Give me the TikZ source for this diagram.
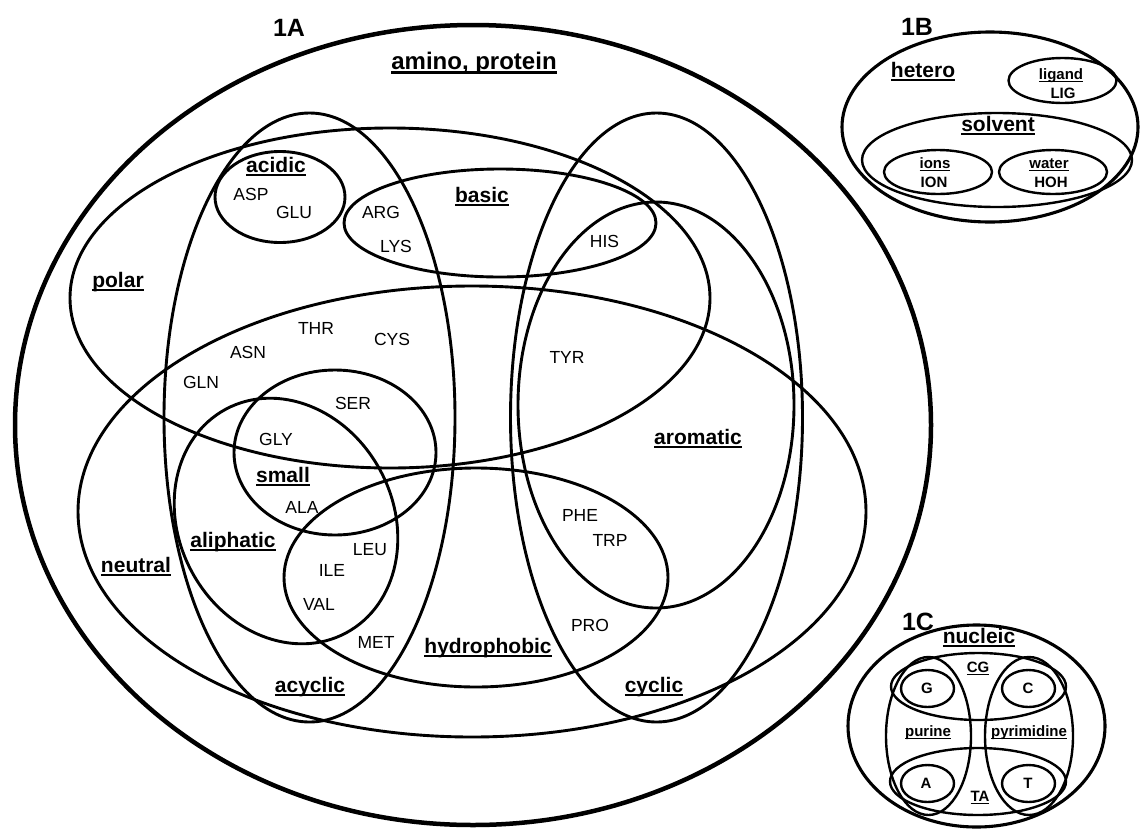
\documentclass[tikz,border=0pt]{standalone}
\usepackage{fontspec}
\setmainfont{Liberation Sans}
\newcommand\ulx[1]{\setbox0\hbox{#1}\rlap{\rule[-0.17em]{\wd0}{0.09em}}\box0}
\tikzset{
  ell/.style={line width=2.9pt},
  outerA/.style={line width=4.5pt},
  outerB/.style={line width=3.1pt},
  small ell/.style={line width=2.4pt},
  lab/.style={inner sep=0pt, font=\bfseries\fontsize{21}{21}\selectfont, text height=15pt, text depth=0pt},
  slab/.style={inner sep=0pt, font=\bfseries\fontsize{15}{15}\selectfont, text height=11pt, text depth=0pt},
  res/.style={inner sep=0pt, font=\fontsize{17.5}{17.5}\selectfont, text height=12.5pt, text depth=0pt},
  panel/.style={inner sep=0pt, font=\bfseries\fontsize{25}{25}\selectfont, text height=18pt, text depth=0pt},
}
\begin{document}
\begin{tikzpicture}[x=1pt,y=-1pt]
\useasboundingbox (0,0) rectangle (1140,828);
% ---------- 1A ----------
\draw[outerA] (473,425) ellipse [x radius=458, y radius=400];
\draw[ell] (390,298) ellipse [x radius=320, y radius=170];   % polar
\draw[ell] (472,511.5) ellipse [x radius=394, y radius=225.5]; % neutral
\draw[ell] (309.5,417.5) ellipse [x radius=145.5, y radius=304.5]; % acyclic
\draw[ell] (656.5,417.5) ellipse [x radius=146, y radius=304.5]; % cyclic
\draw[ell] (656,405) ellipse [x radius=138, y radius=203]; % aromatic
\draw[ell] (280,197) ellipse [x radius=65, y radius=45.5]; % acidic
\draw[ell] (500,223) ellipse [x radius=156, y radius=54]; % basic
\draw[ell] (335,452.5) ellipse [x radius=101, y radius=82.5]; % small
\draw[ell, rotate around={-61.7:(286,521)}] (286,521) ellipse [x radius=127, y radius=107]; % aliphatic
\draw[ell] (476,577.5) ellipse [x radius=192, y radius=109.5]; % hydrophobic

\node[panel] (l1A) at (289,27) {1A};
\node[inner sep=0pt, font=\bfseries\fontsize{24}{24}\selectfont, text height=17pt, text depth=0pt] (amino) at (474,61) {\ulx{amino, protein}};
\node[lab] (acidic) at (276,165) {\ulx{acidic}};
\node[lab] (basic) at (482,195) {\ulx{basic}};
\node[lab] (polar) at (118,280) {\ulx{polar}};
\node[lab] (aliphatic) at (233,540) {\ulx{aliphatic}};
\node[lab] (small) at (283,475) {\ulx{small}};
\node[lab] (neutral) at (136,565) {\ulx{neutral}};
\node[lab] (hydrophobic) at (488,646) {\ulx{hydrophobic}};
\node[lab] (acyclic) at (310,685) {\ulx{acyclic}};
\node[lab] (cyclic) at (654,685) {\ulx{cyclic}};
\node[lab] (aromatic) at (698,437) {\ulx{aromatic}};

\node[res] (ASP) at (251,194) {ASP};
\node[res] (GLU) at (294,212) {GLU};
\node[res] (ARG) at (381,212) {ARG};
\node[res] (LYS) at (396,246) {LYS};
\node[res] (THR) at (316,328) {THR};
\node[res] (CYS) at (392,339) {CYS};
\node[res] (ASN) at (248,352) {ASN};
\node[res] (GLN) at (201,382) {GLN};
\node[res] (SER) at (353,403) {SER};
\node[res] (TYR) at (567,357) {TYR};
\node[res] (HIS) at (604.5,241) {HIS};
\node[res] (GLY) at (276,439) {GLY};
\node[res] (ALA) at (302,507) {ALA};
\node[res] (LEU) at (370,549) {LEU};
\node[res] (ILE) at (332,570) {ILE};
\node[res] (VAL) at (319,604) {VAL};
\node[res] (MET) at (376,642) {MET};
\node[res] (PHE) at (580,515) {PHE};
\node[res] (TRP) at (610,540) {TRP};
\node[res] (PRO) at (590,625) {PRO};

% ---------- 1B ----------
\draw[outerB] (990,127) ellipse [x radius=148, y radius=95];
\draw[small ell] (1062.5,80.5) ellipse [x radius=54, y radius=22.5]; % ligand
\draw[small ell] (997,160) ellipse [x radius=135, y radius=47]; % solvent
\draw[small ell] (938,172) ellipse [x radius=54, y radius=22]; % ions
\draw[small ell] (1053,172) ellipse [x radius=54, y radius=22]; % water
\node[panel] (l1B) at (917,26) {1B};
\node[lab] (hetero) at (923,70) {\ulx{hetero}};
\node[lab] (solvent) at (998,124) {\ulx{solvent}};
\node[slab] (ligand) at (1061,74) {\ulx{ligand}};
\node[slab] (LIG) at (1063,93) {LIG};
\node[slab] (ions) at (935,163) {\ulx{ions}};
\node[slab] (ION) at (934,182) {ION};
\node[slab] (water) at (1049,163) {\ulx{water}};
\node[slab] (HOH) at (1051,182) {HOH};

% ---------- 1C ----------
\draw[outerB] (976.5,726) ellipse [x radius=128.5, y radius=101];
\draw[small ell] (978.5,686.5) ellipse [x radius=87.5, y radius=33.5]; % CG
\draw[small ell] (978,781.5) ellipse [x radius=88, y radius=33.5]; % TA
\draw[small ell] (928.5,736) ellipse [x radius=42.5, y radius=79]; % purine
\draw[small ell] (1029,736) ellipse [x radius=44, y radius=79]; % pyrimidine
\draw[small ell] (927.5,688.5) ellipse [x radius=26.5, y radius=18.5]; % G
\draw[small ell] (1028.5,688.5) ellipse [x radius=26.5, y radius=18.5]; % C
\draw[small ell] (927.5,783.5) ellipse [x radius=26.5, y radius=18.5]; % A
\draw[small ell] (1028.5,783.5) ellipse [x radius=26.5, y radius=18.5]; % T
\node[panel] (l1C) at (918,621) {1C};
\node[lab] (nucleic) at (979,636) {\ulx{nucleic}};
\node[slab] (CG) at (978,667) {\ulx{CG}};
\node[slab] (purine) at (928,731) {\ulx{purine}};
\node[slab] (pyrimidine) at (1029,731) {\ulx{pyrimidine}};
\node[slab] (TA) at (980,796) {\ulx{TA}};
\node[slab] (G) at (927,688) {G};
\node[slab] (C) at (1028,688) {C};
\node[slab] (A) at (926,783) {A};
\node[slab] (T) at (1028,783) {T};
\end{tikzpicture}
\end{document}
